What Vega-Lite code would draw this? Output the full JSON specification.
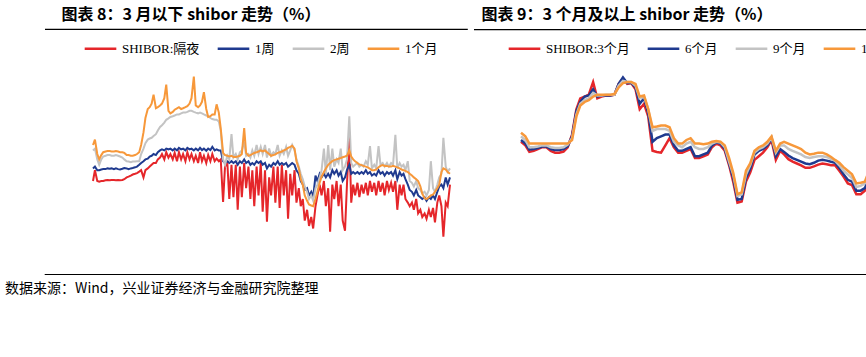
{
  "$schema": "https://vega.github.io/schema/vega-lite/v6.json",
  "background": "white",
  "padding": {"left": 5, "top": 6, "right": 0, "bottom": 0},
  "config": {
    "view": {"stroke": null},
    "font": "Liberation Serif",
    "axis": {"grid": false, "domainColor": "#000", "tickColor": "#000", "labelColor": "#000", "labelFont": "Liberation Serif", "labelFontSize": 12, "title": null, "labelOverlap": false, "labelFlush": false},
    "title": {"font": "Noto Sans CJK SC", "fontSize": 16, "fontWeight": "bold", "color": "#000", "anchor": "start"},
    "legend": {"orient": "none", "direction": "horizontal", "title": null, "symbolType": "stroke", "symbolSize": 1000, "symbolStrokeWidth": 2.5, "labelFont": "Liberation Serif, Noto Sans CJK SC", "labelFontSize": 13, "labelColor": "#000", "columnPadding": 12, "labelOffset": 4}
  },
  "resolve": {"scale": {"color": "independent"}, "legend": {"color": "independent"}},
  "spacing": 19,
  "vconcat": [
    {
      "resolve": {"scale": {"color": "independent"}, "legend": {"color": "independent"}},
      "spacing": 4,
      "hconcat": [
        {
          "width": 357, "height": 180,
          "title": {"text": "图表 8：3 月以下 shibor 走势（%）", "dx": 17, "offset": 6, "frame": "bounds"},
          "layer": [
            {
              "data": {"values": [
{"d":"2016-01-01","on":2.0,"w1":2.35,"w2":2.85,"m1":3.0},
{"d":"2016-01-15","on":2.3,"w1":2.4,"w2":2.9,"m1":3.15},
{"d":"2016-02-01","on":2.0,"w1":2.3,"w2":2.6,"m1":2.75},
{"d":"2016-02-15","on":1.98,"w1":2.3,"w2":2.45,"m1":2.6},
{"d":"2016-03-01","on":2.0,"w1":2.32,"w2":2.6,"m1":2.72},
{"d":"2016-03-15","on":2.0,"w1":2.33,"w2":2.68,"m1":2.8},
{"d":"2016-04-01","on":2.02,"w1":2.33,"w2":2.7,"m1":2.82},
{"d":"2016-04-15","on":2.03,"w1":2.35,"w2":2.72,"m1":2.83},
{"d":"2016-05-01","on":2.02,"w1":2.34,"w2":2.72,"m1":2.83},
{"d":"2016-05-15","on":2.03,"w1":2.35,"w2":2.7,"m1":2.82},
{"d":"2016-06-01","on":2.03,"w1":2.33,"w2":2.7,"m1":2.82},
{"d":"2016-06-15","on":2.02,"w1":2.35,"w2":2.72,"m1":2.83},
{"d":"2016-07-01","on":2.03,"w1":2.33,"w2":2.7,"m1":2.82},
{"d":"2016-07-15","on":2.02,"w1":2.32,"w2":2.68,"m1":2.8},
{"d":"2016-08-01","on":2.03,"w1":2.34,"w2":2.65,"m1":2.8},
{"d":"2016-08-15","on":2.05,"w1":2.36,"w2":2.6,"m1":2.78},
{"d":"2016-09-01","on":2.1,"w1":2.35,"w2":2.55,"m1":2.72},
{"d":"2016-09-15","on":2.12,"w1":2.33,"w2":2.54,"m1":2.72},
{"d":"2016-10-01","on":2.15,"w1":2.35,"w2":2.52,"m1":2.7},
{"d":"2016-10-15","on":2.18,"w1":2.36,"w2":2.54,"m1":2.7},
{"d":"2016-11-01","on":2.2,"w1":2.38,"w2":2.54,"m1":2.72},
{"d":"2016-11-15","on":2.22,"w1":2.4,"w2":2.55,"m1":2.75},
{"d":"2016-12-01","on":2.26,"w1":2.45,"w2":2.55,"m1":2.8},
{"d":"2016-12-15","on":2.3,"w1":2.5,"w2":2.75,"m1":3.0},
{"d":"2017-01-01","on":2.1,"w1":2.55,"w2":2.9,"m1":3.35},
{"d":"2017-01-15","on":2.3,"w1":2.6,"w2":3.05,"m1":3.75},
{"d":"2017-02-01","on":2.35,"w1":2.62,"w2":3.15,"m1":4.0},
{"d":"2017-02-15","on":2.4,"w1":2.68,"w2":3.18,"m1":4.05},
{"d":"2017-03-01","on":2.45,"w1":2.7,"w2":3.2,"m1":4.15},
{"d":"2017-03-15","on":2.5,"w1":2.75,"w2":3.25,"m1":4.4},
{"d":"2017-04-01","on":2.5,"w1":2.72,"w2":3.3,"m1":4.02},
{"d":"2017-04-15","on":2.6,"w1":2.8,"w2":3.4,"m1":4.05},
{"d":"2017-05-01","on":2.65,"w1":2.85,"w2":3.5,"m1":4.1},
{"d":"2017-05-15","on":2.75,"w1":2.88,"w2":3.55,"m1":4.15},
{"d":"2017-06-01","on":2.6,"w1":2.85,"w2":3.62,"m1":4.3},
{"d":"2017-06-15","on":2.8,"w1":2.9,"w2":3.7,"m1":4.68},
{"d":"2017-07-01","on":2.65,"w1":2.88,"w2":3.74,"m1":3.95},
{"d":"2017-07-15","on":2.75,"w1":2.9,"w2":3.78,"m1":3.88},
{"d":"2017-08-01","on":2.6,"w1":2.85,"w2":3.8,"m1":3.92},
{"d":"2017-08-15","on":2.78,"w1":2.9,"w2":3.82,"m1":3.98},
{"d":"2017-09-01","on":2.55,"w1":2.85,"w2":3.85,"m1":4.02},
{"d":"2017-09-15","on":2.8,"w1":2.92,"w2":3.85,"m1":4.05},
{"d":"2017-10-01","on":2.6,"w1":2.88,"w2":3.88,"m1":4.0},
{"d":"2017-10-15","on":2.75,"w1":2.9,"w2":3.9,"m1":4.02},
{"d":"2017-11-01","on":2.55,"w1":2.85,"w2":3.9,"m1":4.05},
{"d":"2017-11-15","on":2.8,"w1":2.92,"w2":3.92,"m1":4.08},
{"d":"2017-12-01","on":2.6,"w1":2.88,"w2":3.95,"m1":4.15},
{"d":"2017-12-15","on":2.75,"w1":2.9,"w2":3.95,"m1":4.3},
{"d":"2018-01-01","on":2.55,"w1":2.85,"w2":3.92,"m1":4.9},
{"d":"2018-01-15","on":2.7,"w1":2.9,"w2":3.9,"m1":4.1},
{"d":"2018-02-01","on":2.5,"w1":2.85,"w2":3.88,"m1":4.05},
{"d":"2018-02-15","on":2.8,"w1":2.92,"w2":3.9,"m1":4.1},
{"d":"2018-03-01","on":2.55,"w1":2.86,"w2":3.88,"m1":4.2},
{"d":"2018-03-15","on":2.7,"w1":2.9,"w2":3.85,"m1":4.47},
{"d":"2018-04-01","on":2.5,"w1":2.84,"w2":3.82,"m1":4.0},
{"d":"2018-04-15","on":2.72,"w1":2.9,"w2":3.8,"m1":3.78},
{"d":"2018-05-01","on":2.55,"w1":2.86,"w2":3.75,"m1":3.8},
{"d":"2018-05-15","on":2.75,"w1":2.95,"w2":3.72,"m1":3.85},
{"d":"2018-06-01","on":2.55,"w1":2.85,"w2":3.7,"m1":3.85},
{"d":"2018-06-15","on":2.62,"w1":2.88,"w2":3.7,"m1":4.13},
{"d":"2018-07-01","on":2.55,"w1":2.85,"w2":3.65,"m1":3.9},
{"d":"2018-07-15","on":2.6,"w1":2.85,"w2":3.4,"m1":3.46},
{"d":"2018-08-01","on":1.42,"w1":2.55,"w2":2.6,"m1":2.78},
{"d":"2018-08-15","on":2.4,"w1":2.5,"w2":2.45,"m1":2.72},
{"d":"2018-09-01","on":2.5,"w1":2.55,"w2":2.7,"m1":2.7},
{"d":"2018-09-15","on":1.5,"w1":2.5,"w2":2.6,"m1":2.68},
{"d":"2018-10-01","on":2.45,"w1":2.55,"w2":3.3,"m1":2.7},
{"d":"2018-10-15","on":1.55,"w1":2.5,"w2":2.65,"m1":2.67},
{"d":"2018-11-01","on":2.45,"w1":2.55,"w2":2.75,"m1":2.67},
{"d":"2018-11-15","on":1.2,"w1":2.45,"w2":2.6,"m1":2.68},
{"d":"2018-12-01","on":2.4,"w1":2.55,"w2":2.8,"m1":2.7},
{"d":"2018-12-15","on":1.55,"w1":2.5,"w2":2.85,"m1":2.75},
{"d":"2019-01-01","on":2.5,"w1":2.6,"w2":3.1,"m1":3.47},
{"d":"2019-01-15","on":1.8,"w1":2.5,"w2":2.7,"m1":2.78},
{"d":"2019-02-01","on":2.4,"w1":2.55,"w2":2.75,"m1":2.7},
{"d":"2019-02-15","on":1.5,"w1":2.45,"w2":2.65,"m1":2.72},
{"d":"2019-03-01","on":2.3,"w1":2.5,"w2":2.85,"m1":2.75},
{"d":"2019-03-15","on":1.3,"w1":2.45,"w2":2.7,"m1":2.78},
{"d":"2019-04-01","on":2.4,"w1":2.55,"w2":3.0,"m1":2.8},
{"d":"2019-04-15","on":1.6,"w1":2.5,"w2":2.75,"m1":2.82},
{"d":"2019-05-01","on":2.5,"w1":2.55,"w2":2.95,"m1":2.85},
{"d":"2019-05-15","on":1.15,"w1":2.45,"w2":2.75,"m1":2.82},
{"d":"2019-06-01","on":2.3,"w1":2.5,"w2":3.0,"m1":2.85},
{"d":"2019-06-15","on":0.87,"w1":2.35,"w2":2.65,"m1":2.8},
{"d":"2019-07-01","on":2.1,"w1":2.45,"w2":2.9,"m1":2.75},
{"d":"2019-07-15","on":1.6,"w1":2.4,"w2":2.7,"m1":2.7},
{"d":"2019-08-01","on":2.4,"w1":2.5,"w2":2.8,"m1":2.72},
{"d":"2019-08-15","on":1.4,"w1":2.45,"w2":2.75,"m1":2.74},
{"d":"2019-09-01","on":2.4,"w1":2.55,"w2":3.0,"m1":2.78},
{"d":"2019-09-15","on":1.25,"w1":2.45,"w2":2.7,"m1":2.8},
{"d":"2019-10-01","on":2.45,"w1":2.5,"w2":2.85,"m1":2.82},
{"d":"2019-10-15","on":1.6,"w1":2.45,"w2":2.75,"m1":2.85},
{"d":"2019-11-01","on":2.3,"w1":2.5,"w2":2.95,"m1":2.88},
{"d":"2019-11-15","on":0.95,"w1":2.4,"w2":2.7,"m1":2.92},
{"d":"2019-12-01","on":2.2,"w1":2.45,"w2":2.85,"m1":2.95},
{"d":"2019-12-15","on":1.6,"w1":2.5,"w2":3.0,"m1":2.98},
{"d":"2020-01-01","on":2.3,"w1":2.45,"w2":2.85,"m1":2.9},
{"d":"2020-01-15","on":1.4,"w1":2.3,"w2":2.6,"m1":2.55},
{"d":"2020-02-01","on":1.8,"w1":2.2,"w2":2.4,"m1":2.35},
{"d":"2020-02-15","on":1.3,"w1":2.0,"w2":2.2,"m1":2.05},
{"d":"2020-03-01","on":1.5,"w1":1.9,"w2":2.05,"m1":1.89},
{"d":"2020-03-15","on":0.9,"w1":1.75,"w2":1.85,"m1":1.6},
{"d":"2020-04-01","on":1.2,"w1":1.8,"w2":1.7,"m1":1.45},
{"d":"2020-04-15","on":0.75,"w1":1.6,"w2":1.5,"m1":1.35},
{"d":"2020-05-01","on":1.0,"w1":1.7,"w2":1.6,"m1":1.32},
{"d":"2020-05-15","on":0.68,"w1":1.55,"w2":1.45,"m1":1.3},
{"d":"2020-06-01","on":1.3,"w1":2.15,"w2":1.8,"m1":1.5},
{"d":"2020-06-15","on":1.6,"w1":2.0,"w2":1.9,"m1":1.7},
{"d":"2020-07-01","on":1.9,"w1":2.2,"w2":2.1,"m1":1.95},
{"d":"2020-07-15","on":1.6,"w1":2.1,"w2":2.3,"m1":2.12},
{"d":"2020-08-01","on":2.0,"w1":2.2,"w2":2.9,"m1":2.25},
{"d":"2020-08-15","on":1.3,"w1":2.1,"w2":2.2,"m1":2.35},
{"d":"2020-09-01","on":1.8,"w1":2.2,"w2":3.0,"m1":2.45},
{"d":"2020-09-15","on":0.59,"w1":2.1,"w2":2.3,"m1":2.5},
{"d":"2020-10-01","on":1.9,"w1":2.3,"w2":2.9,"m1":2.55},
{"d":"2020-10-15","on":1.5,"w1":2.2,"w2":2.4,"m1":2.58},
{"d":"2020-11-01","on":2.0,"w1":2.3,"w2":2.6,"m1":2.6},
{"d":"2020-11-15","on":1.3,"w1":2.15,"w2":2.5,"m1":2.62},
{"d":"2020-12-01","on":1.9,"w1":2.25,"w2":2.9,"m1":2.64},
{"d":"2020-12-15","on":0.9,"w1":2.0,"w2":2.3,"m1":2.66},
{"d":"2021-01-01","on":0.62,"w1":2.1,"w2":2.4,"m1":2.68},
{"d":"2021-01-15","on":1.9,"w1":2.3,"w2":2.6,"m1":2.7},
{"d":"2021-02-01","on":3.25,"w1":2.45,"w2":3.8,"m1":2.85},
{"d":"2021-02-15","on":1.4,"w1":2.2,"w2":2.5,"m1":2.68},
{"d":"2021-03-01","on":1.9,"w1":2.25,"w2":2.4,"m1":2.6},
{"d":"2021-03-15","on":1.6,"w1":2.2,"w2":2.45,"m1":2.55},
{"d":"2021-04-01","on":1.95,"w1":2.25,"w2":2.5,"m1":2.5},
{"d":"2021-04-15","on":1.55,"w1":2.2,"w2":2.4,"m1":2.46},
{"d":"2021-05-01","on":1.9,"w1":2.25,"w2":2.45,"m1":2.44},
{"d":"2021-05-15","on":1.65,"w1":2.2,"w2":2.4,"m1":2.42},
{"d":"2021-06-01","on":1.95,"w1":2.3,"w2":2.55,"m1":2.4},
{"d":"2021-06-15","on":1.6,"w1":2.2,"w2":2.45,"m1":2.38},
{"d":"2021-07-01","on":2.0,"w1":2.25,"w2":2.97,"m1":2.34},
{"d":"2021-07-15","on":1.7,"w1":2.15,"w2":2.35,"m1":2.3},
{"d":"2021-08-01","on":1.95,"w1":2.2,"w2":2.45,"m1":2.3},
{"d":"2021-08-15","on":1.6,"w1":2.15,"w2":2.35,"m1":2.32},
{"d":"2021-09-01","on":2.0,"w1":2.3,"w2":2.97,"m1":2.38},
{"d":"2021-09-15","on":1.7,"w1":2.2,"w2":2.45,"m1":2.42},
{"d":"2021-10-01","on":1.95,"w1":2.25,"w2":2.5,"m1":2.44},
{"d":"2021-10-15","on":1.6,"w1":2.15,"w2":2.4,"m1":2.42},
{"d":"2021-11-01","on":2.0,"w1":2.25,"w2":2.5,"m1":2.42},
{"d":"2021-11-15","on":1.75,"w1":2.2,"w2":2.4,"m1":2.4},
{"d":"2021-12-01","on":1.95,"w1":2.25,"w2":2.5,"m1":2.4},
{"d":"2021-12-15","on":1.7,"w1":2.15,"w2":2.45,"m1":2.42},
{"d":"2022-01-01","on":2.0,"w1":2.3,"w2":3.28,"m1":2.4},
{"d":"2022-01-15","on":1.2,"w1":2.05,"w2":2.35,"m1":2.38},
{"d":"2022-02-01","on":1.9,"w1":2.25,"w2":2.5,"m1":2.35},
{"d":"2022-02-15","on":1.6,"w1":2.15,"w2":2.4,"m1":2.32},
{"d":"2022-03-01","on":1.9,"w1":2.2,"w2":2.45,"m1":2.3},
{"d":"2022-03-15","on":1.5,"w1":2.05,"w2":2.3,"m1":2.28},
{"d":"2022-04-01","on":1.4,"w1":1.9,"w2":2.55,"m1":2.25},
{"d":"2022-04-15","on":1.3,"w1":1.75,"w2":2.0,"m1":2.2},
{"d":"2022-05-01","on":1.4,"w1":1.7,"w2":1.95,"m1":2.15},
{"d":"2022-05-15","on":1.2,"w1":1.6,"w2":1.85,"m1":2.1},
{"d":"2022-06-01","on":1.5,"w1":1.75,"w2":2.0,"m1":2.05},
{"d":"2022-06-15","on":1.1,"w1":1.6,"w2":1.8,"m1":2.0},
{"d":"2022-07-01","on":1.2,"w1":1.55,"w2":1.75,"m1":1.85},
{"d":"2022-07-15","on":1.0,"w1":1.5,"w2":1.65,"m1":1.65},
{"d":"2022-08-01","on":1.1,"w1":1.55,"w2":1.7,"m1":1.52},
{"d":"2022-08-15","on":0.95,"w1":1.45,"w2":1.6,"m1":1.5},
{"d":"2022-09-01","on":1.2,"w1":1.55,"w2":1.75,"m1":1.55},
{"d":"2022-09-15","on":1.0,"w1":1.5,"w2":2.55,"m1":1.6},
{"d":"2022-10-01","on":1.25,"w1":1.6,"w2":1.8,"m1":1.62},
{"d":"2022-10-15","on":0.85,"w1":1.5,"w2":1.7,"m1":1.7},
{"d":"2022-11-01","on":1.4,"w1":1.7,"w2":1.9,"m1":1.8},
{"d":"2022-11-15","on":1.6,"w1":1.85,"w2":2.1,"m1":1.9},
{"d":"2022-12-01","on":1.3,"w1":1.9,"w2":2.2,"m1":2.25},
{"d":"2022-12-15","on":0.45,"w1":1.8,"w2":3.2,"m1":2.35},
{"d":"2023-01-01","on":1.4,"w1":2.1,"w2":2.4,"m1":2.32},
{"d":"2023-01-15","on":1.3,"w1":1.9,"w2":2.25,"m1":2.25},
{"d":"2023-02-01","on":1.9,"w1":2.1,"w2":2.35,"m1":2.2}
              ]},
              "transform": [{"fold": ["on", "w1", "w2", "m1"], "as": ["s", "v"]}],
              "mark": {"type": "line", "strokeWidth": 2},
              "encoding": {
                "x": {
                  "field": "d", "type": "temporal",
                  "scale": {"type": "utc", "domain": [{"year": 2016, "month": 1, "date": 1, "utc": true}, {"year": 2023, "month": 2, "date": 1, "utc": true}]},
                  "axis": {
                    "labelAngle": -90, "tickSize": -4, "labelPadding": 9, "labelFontSize": 12,
                    "labelExpr": "join(split(utcFormat(datum.value, '%Y-%m'), ''), '\u200a')",
                    "values": [
                      {"year": 2016, "month": 1, "date": 1, "utc": true}, {"year": 2016, "month": 6, "date": 1, "utc": true}, {"year": 2016, "month": 11, "date": 1, "utc": true},
                      {"year": 2017, "month": 4, "date": 1, "utc": true}, {"year": 2017, "month": 9, "date": 1, "utc": true}, {"year": 2018, "month": 2, "date": 1, "utc": true},
                      {"year": 2018, "month": 7, "date": 1, "utc": true}, {"year": 2018, "month": 12, "date": 1, "utc": true}, {"year": 2019, "month": 5, "date": 1, "utc": true},
                      {"year": 2019, "month": 10, "date": 1, "utc": true}, {"year": 2020, "month": 3, "date": 1, "utc": true}, {"year": 2020, "month": 8, "date": 1, "utc": true},
                      {"year": 2021, "month": 1, "date": 1, "utc": true}, {"year": 2021, "month": 6, "date": 1, "utc": true}, {"year": 2021, "month": 11, "date": 1, "utc": true},
                      {"year": 2022, "month": 4, "date": 1, "utc": true}, {"year": 2022, "month": 9, "date": 1, "utc": true}, {"year": 2023, "month": 2, "date": 1, "utc": true}
                    ]
                  }
                },
                "y": {
                  "field": "v", "type": "quantitative",
                  "scale": {"domain": [0, 5], "nice": false},
                  "axis": {"values": [0, 0.5, 1, 1.5, 2, 2.5, 3, 3.5, 4, 4.5, 5], "format": ".1f", "tickSize": -4, "labelPadding": 22, "minExtent": 48, "labelFontSize": 12}
                },
                "color": {
                  "field": "s", "type": "nominal",
                  "scale": {"domain": ["on", "w1", "w2", "m1"], "range": ["#E5262A", "#1F3A8F", "#C3C3C3", "#F7983A"]},
                  "legend": {"legendX": -10, "legendY": -42, "labelExpr": "datum.label == 'on' ? 'SHIBOR:隔夜' : datum.label == 'w1' ? '1周' : datum.label == 'w2' ? '2周' : '1个月'"}
                }
              }
            },
            {
              "data": {"values": [{"line": "title-rule"}]},
              "mark": {"type": "rule", "color": "#000", "strokeWidth": 1.2, "clip": false},
              "encoding": {
                "x": {"datum": {"year": 2015, "month": 1, "date": 18, "utc": true}, "type": "temporal", "axis": null},
                "x2": {"datum": {"year": 2023, "month": 6, "date": 10, "utc": true}},
                "y": {"datum": 6.21, "type": "quantitative", "axis": null}
              }
            }
          ]
        },
        {
          "width": 361, "height": 181,
          "title": {"text": "图表 9：3 个月及以上 shibor 走势（%）", "dx": 8, "offset": 6, "frame": "bounds"},
          "layer": [
            {
              "data": {"values": [
{"d":"2016-01-01","m3":3.1,"m6":3.15,"m9":3.25,"y1":3.35},
{"d":"2016-02-01","m3":3.0,"m6":3.05,"m9":3.15,"y1":3.25},
{"d":"2016-03-01","m3":2.82,"m6":2.88,"m9":2.95,"y1":3.05},
{"d":"2016-04-01","m3":2.85,"m6":2.9,"m9":2.95,"y1":3.05},
{"d":"2016-05-01","m3":2.9,"m6":2.93,"m9":2.97,"y1":3.05},
{"d":"2016-06-01","m3":2.95,"m6":2.97,"m9":3.0,"y1":3.05},
{"d":"2016-07-01","m3":2.95,"m6":2.97,"m9":3.0,"y1":3.05},
{"d":"2016-08-01","m3":2.85,"m6":2.9,"m9":2.95,"y1":3.05},
{"d":"2016-09-01","m3":2.8,"m6":2.87,"m9":2.93,"y1":3.05},
{"d":"2016-10-01","m3":2.8,"m6":2.87,"m9":2.93,"y1":3.05},
{"d":"2016-11-01","m3":2.83,"m6":2.9,"m9":2.95,"y1":3.05},
{"d":"2016-12-01","m3":2.95,"m6":2.98,"m9":3.02,"y1":3.05},
{"d":"2017-01-01","m3":3.3,"m6":3.25,"m9":3.2,"y1":3.15},
{"d":"2017-02-01","m3":4.0,"m6":3.95,"m9":3.85,"y1":3.8},
{"d":"2017-03-01","m3":4.3,"m6":4.2,"m9":4.15,"y1":4.1},
{"d":"2017-04-01","m3":4.35,"m6":4.35,"m9":4.25,"y1":4.2},
{"d":"2017-05-01","m3":4.4,"m6":4.38,"m9":4.3,"y1":4.25},
{"d":"2017-06-01","m3":4.75,"m6":4.55,"m9":4.45,"y1":4.35},
{"d":"2017-07-01","m3":4.3,"m6":4.35,"m9":4.38,"y1":4.4},
{"d":"2017-08-01","m3":4.35,"m6":4.38,"m9":4.38,"y1":4.4},
{"d":"2017-09-01","m3":4.38,"m6":4.38,"m9":4.4,"y1":4.4},
{"d":"2017-10-01","m3":4.38,"m6":4.38,"m9":4.4,"y1":4.4},
{"d":"2017-11-01","m3":4.4,"m6":4.4,"m9":4.4,"y1":4.42},
{"d":"2017-12-01","m3":4.7,"m6":4.7,"m9":4.65,"y1":4.6},
{"d":"2018-01-01","m3":4.85,"m6":4.88,"m9":4.78,"y1":4.72},
{"d":"2018-02-01","m3":4.7,"m6":4.72,"m9":4.75,"y1":4.75},
{"d":"2018-03-01","m3":4.72,"m6":4.73,"m9":4.75,"y1":4.75},
{"d":"2018-04-01","m3":4.55,"m6":4.6,"m9":4.65,"y1":4.7},
{"d":"2018-05-01","m3":4.0,"m6":4.15,"m9":4.3,"y1":4.35},
{"d":"2018-06-01","m3":4.15,"m6":4.3,"m9":4.35,"y1":4.38},
{"d":"2018-07-01","m3":3.8,"m6":3.9,"m9":4.0,"y1":4.0},
{"d":"2018-08-01","m3":2.85,"m6":3.1,"m9":3.4,"y1":3.5},
{"d":"2018-09-01","m3":2.82,"m6":3.2,"m9":3.45,"y1":3.52},
{"d":"2018-10-01","m3":2.8,"m6":3.25,"m9":3.45,"y1":3.55},
{"d":"2018-11-01","m3":3.0,"m6":3.3,"m9":3.45,"y1":3.55},
{"d":"2018-12-01","m3":3.2,"m6":3.3,"m9":3.4,"y1":3.5},
{"d":"2019-01-01","m3":2.95,"m6":3.0,"m9":3.1,"y1":3.2},
{"d":"2019-02-01","m3":2.8,"m6":2.85,"m9":3.0,"y1":3.05},
{"d":"2019-03-01","m3":2.8,"m6":2.85,"m9":2.95,"y1":3.05},
{"d":"2019-04-01","m3":2.85,"m6":2.9,"m9":3.05,"y1":3.15},
{"d":"2019-05-01","m3":2.9,"m6":2.95,"m9":3.1,"y1":3.2},
{"d":"2019-06-01","m3":2.65,"m6":2.7,"m9":2.95,"y1":3.05},
{"d":"2019-07-01","m3":2.65,"m6":2.7,"m9":2.9,"y1":3.05},
{"d":"2019-08-01","m3":2.7,"m6":2.75,"m9":2.9,"y1":3.03},
{"d":"2019-09-01","m3":2.75,"m6":2.8,"m9":2.95,"y1":3.05},
{"d":"2019-10-01","m3":2.95,"m6":3.0,"m9":3.05,"y1":3.1},
{"d":"2019-11-01","m3":3.05,"m6":3.08,"m9":3.1,"y1":3.12},
{"d":"2019-12-01","m3":3.0,"m6":3.05,"m9":3.08,"y1":3.1},
{"d":"2020-01-01","m3":2.85,"m6":2.9,"m9":2.95,"y1":3.0},
{"d":"2020-02-01","m3":2.45,"m6":2.5,"m9":2.55,"y1":2.65},
{"d":"2020-03-01","m3":2.0,"m6":2.1,"m9":2.2,"y1":2.25},
{"d":"2020-04-01","m3":1.42,"m6":1.5,"m9":1.6,"y1":1.65},
{"d":"2020-05-01","m3":1.45,"m6":1.52,"m9":1.65,"y1":1.7},
{"d":"2020-06-01","m3":2.0,"m6":2.1,"m9":2.2,"y1":2.3},
{"d":"2020-07-01","m3":2.25,"m6":2.35,"m9":2.45,"y1":2.5},
{"d":"2020-08-01","m3":2.6,"m6":2.75,"m9":2.8,"y1":2.85},
{"d":"2020-09-01","m3":2.7,"m6":2.85,"m9":2.9,"y1":2.95},
{"d":"2020-10-01","m3":2.8,"m6":2.9,"m9":2.95,"y1":3.0},
{"d":"2020-11-01","m3":2.95,"m6":3.0,"m9":3.05,"y1":3.1},
{"d":"2020-12-01","m3":3.15,"m6":3.2,"m9":3.22,"y1":3.25},
{"d":"2021-01-01","m3":2.6,"m6":2.7,"m9":2.8,"y1":2.85},
{"d":"2021-02-01","m3":2.85,"m6":2.9,"m9":3.0,"y1":3.05},
{"d":"2021-03-01","m3":2.75,"m6":2.82,"m9":3.0,"y1":3.1},
{"d":"2021-04-01","m3":2.62,"m6":2.72,"m9":2.9,"y1":3.05},
{"d":"2021-05-01","m3":2.55,"m6":2.65,"m9":2.85,"y1":3.0},
{"d":"2021-06-01","m3":2.5,"m6":2.6,"m9":2.8,"y1":2.95},
{"d":"2021-07-01","m3":2.45,"m6":2.55,"m9":2.75,"y1":2.9},
{"d":"2021-08-01","m3":2.38,"m6":2.5,"m9":2.68,"y1":2.8},
{"d":"2021-09-01","m3":2.38,"m6":2.48,"m9":2.65,"y1":2.75},
{"d":"2021-10-01","m3":2.42,"m6":2.52,"m9":2.68,"y1":2.77},
{"d":"2021-11-01","m3":2.47,"m6":2.58,"m9":2.7,"y1":2.8},
{"d":"2021-12-01","m3":2.5,"m6":2.6,"m9":2.7,"y1":2.8},
{"d":"2022-01-01","m3":2.48,"m6":2.58,"m9":2.68,"y1":2.75},
{"d":"2022-02-01","m3":2.45,"m6":2.55,"m9":2.62,"y1":2.68},
{"d":"2022-03-01","m3":2.45,"m6":2.52,"m9":2.58,"y1":2.6},
{"d":"2022-04-01","m3":2.3,"m6":2.38,"m9":2.45,"y1":2.52},
{"d":"2022-05-01","m3":2.14,"m6":2.2,"m9":2.3,"y1":2.4},
{"d":"2022-06-01","m3":1.95,"m6":2.05,"m9":2.2,"y1":2.3},
{"d":"2022-07-01","m3":1.9,"m6":2.0,"m9":2.1,"y1":2.2},
{"d":"2022-08-01","m3":1.65,"m6":1.75,"m9":1.85,"y1":1.95},
{"d":"2022-09-01","m3":1.65,"m6":1.75,"m9":1.88,"y1":1.97},
{"d":"2022-10-01","m3":1.75,"m6":1.82,"m9":1.95,"y1":2.0},
{"d":"2022-11-01","m3":2.05,"m6":2.1,"m9":2.2,"y1":2.3},
{"d":"2022-12-01","m3":2.38,"m6":2.4,"m9":2.5,"y1":2.55},
{"d":"2023-01-01","m3":2.35,"m6":2.45,"m9":2.55,"y1":2.62},
{"d":"2023-02-01","m3":2.38,"m6":2.5,"m9":2.58,"y1":2.62}
              ]},
              "transform": [{"fold": ["m3", "m6", "m9", "y1"], "as": ["s", "v"]}],
              "mark": {"type": "line", "strokeWidth": 2.5},
              "encoding": {
                "x": {
                  "field": "d", "type": "temporal",
                  "scale": {"type": "utc", "domain": [{"year": 2016, "month": 1, "date": 1, "utc": true}, {"year": 2023, "month": 2, "date": 1, "utc": true}]},
                  "axis": {
                    "labelAngle": -90, "tickSize": -4, "labelPadding": 9, "labelFontSize": 12,
                    "labelExpr": "join(split(utcFormat(datum.value, '%Y-%m'), ''), '\u200a')",
                    "values": [
                      {"year": 2016, "month": 1, "date": 1, "utc": true}, {"year": 2016, "month": 6, "date": 1, "utc": true}, {"year": 2016, "month": 11, "date": 1, "utc": true},
                      {"year": 2017, "month": 4, "date": 1, "utc": true}, {"year": 2017, "month": 9, "date": 1, "utc": true}, {"year": 2018, "month": 2, "date": 1, "utc": true},
                      {"year": 2018, "month": 7, "date": 1, "utc": true}, {"year": 2018, "month": 12, "date": 1, "utc": true}, {"year": 2019, "month": 5, "date": 1, "utc": true},
                      {"year": 2019, "month": 10, "date": 1, "utc": true}, {"year": 2020, "month": 3, "date": 1, "utc": true}, {"year": 2020, "month": 8, "date": 1, "utc": true},
                      {"year": 2021, "month": 1, "date": 1, "utc": true}, {"year": 2021, "month": 6, "date": 1, "utc": true}, {"year": 2021, "month": 11, "date": 1, "utc": true},
                      {"year": 2022, "month": 4, "date": 1, "utc": true}, {"year": 2022, "month": 9, "date": 1, "utc": true}, {"year": 2023, "month": 2, "date": 1, "utc": true}
                    ]
                  }
                },
                "y": {
                  "field": "v", "type": "quantitative",
                  "scale": {"domain": [0, 5], "nice": false},
                  "axis": {"values": [0, 0.5, 1, 1.5, 2, 2.5, 3, 3.5, 4, 4.5, 5], "format": ".1f", "tickSize": -4, "labelPadding": 22, "minExtent": 47, "labelFontSize": 12}
                },
                "color": {
                  "field": "s", "type": "nominal",
                  "scale": {"domain": ["m3", "m6", "m9", "y1"], "range": ["#E5262A", "#1F3A8F", "#C3C3C3", "#F7983A"]},
                  "legend": {"legendX": -14, "legendY": -42, "labelExpr": "datum.label == 'm3' ? 'SHIBOR:3个月' : datum.label == 'm6' ? '6个月' : datum.label == 'm9' ? '9个月' : '1年'"}
                }
              }
            },
            {
              "data": {"values": [{"line": "title-rule"}]},
              "mark": {"type": "rule", "color": "#000", "strokeWidth": 1.2, "clip": false},
              "encoding": {
                "x": {"datum": {"year": 2015, "month": 1, "date": 29, "utc": true}, "type": "temporal", "axis": null},
                "x2": {"datum": {"year": 2023, "month": 6, "date": 8, "utc": true}},
                "y": {"datum": 6.2, "type": "quantitative", "axis": null}
              }
            }
          ]
        }
      ]
    },
    {
      "width": 805, "height": 1,
      "data": {"values": [{"line": "footer-rule"}]},
      "mark": {"type": "rule", "color": "#000", "strokeWidth": 1.2, "clip": false},
      "encoding": {
        "x": {"datum": -0.06, "type": "quantitative", "scale": {"domain": [0, 1]}, "axis": null},
        "x2": {"datum": 1},
        "y": {"datum": 0.5, "type": "quantitative", "scale": {"domain": [0, 1]}, "axis": null}
      },
      "title": {"text": "数据来源：Wind，兴业证券经济与金融研究院整理", "orient": "bottom", "fontSize": 14, "fontWeight": "normal", "offset": 7, "dx": -39}
    }
  ]
}
